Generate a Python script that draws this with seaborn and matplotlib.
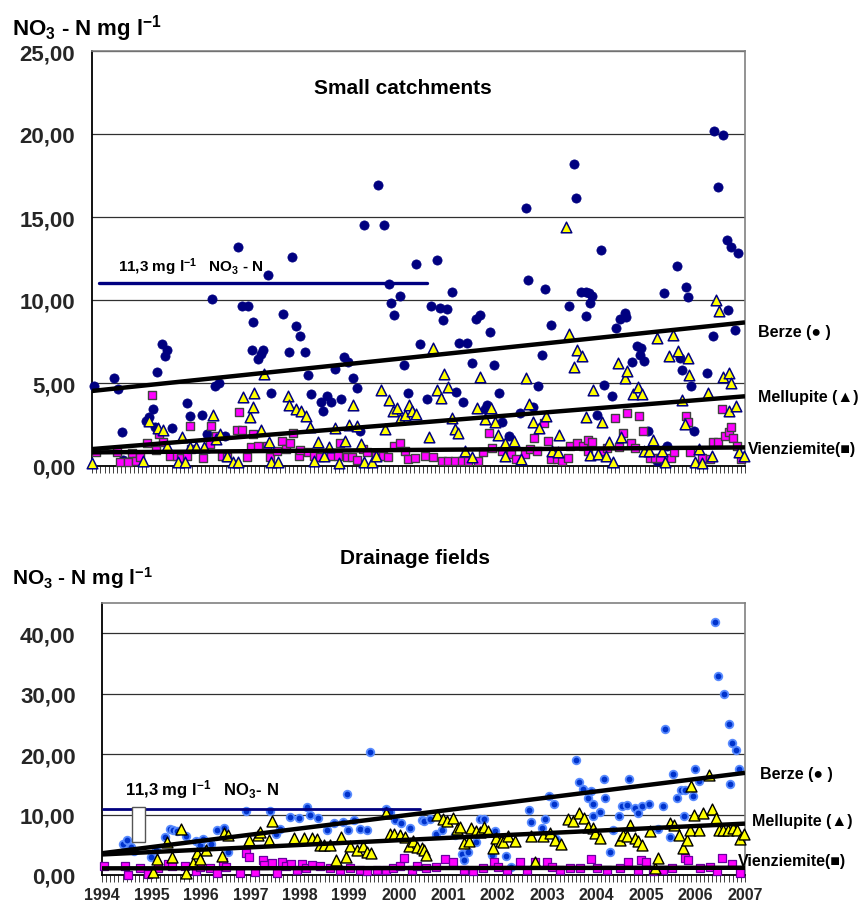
import numpy as np
import pandas as pd
import matplotlib
matplotlib.use('Agg')
import matplotlib.pyplot as plt
import seaborn as sns
from matplotlib.patches import Rectangle

# ---------------- data ----------------
year_start, year_end = 1994, 2007
year_labels = [str(y) for y in range(1994, 2008)]

top_yticks = [0, 5, 10, 15, 20, 25]
top_ylabels = ['0,00', '5,00', '10,00', '15,00', '20,00', '25,00']
bot_yticks = [0, 10, 20, 30, 40]
bot_ylabels = ['0,00', '10,00', '20,00', '30,00', '40,00']

limit_value = 11.0            # drawn 11,3 mg/l NO3-N reference line
limit_span_top = [1994.14, 2000.67]
limit_span_bot = [1994.02, 2000.43]

# trend lines (value at 1994, value at 2007)
trend_top = {'Berze': [4.52, 8.65], 'Mellupite': [1.02, 4.2], 'Vienziemite': [0.82, 1.12]}
trend_bot = {'Berze': [3.6, 16.9], 'Mellupite': [3.4, 8.5], 'Vienziemite': [1.1, 1.2]}

# Small catchments
berze_top = [(1994.04,4.80),(1994.44,5.32),(1994.52,4.64),(1994.59,2.03),(1994.62,0.35),(1995.07,2.73),(1995.14,2.93),(1995.22,3.43),(1995.26,2.33),(1995.30,5.64),(1995.39,7.33),(1995.45,6.61),(1995.50,6.97),(1995.59,2.29),(1995.90,3.78),(1995.96,3.03),(1996.19,3.09),(1996.28,1.93),(1996.38,10.06),(1996.45,4.80),(1996.53,5.00),(1996.65,1.83),(1996.90,13.21),(1996.99,9.64),(1997.11,9.64),(1997.19,6.99),(1997.21,8.69),(1997.31,6.45),(1997.36,6.75),(1997.41,6.99),(1997.50,11.53),(1997.56,4.38),(1997.81,9.14),(1997.93,6.89),(1997.98,12.61),(1998.07,8.41),(1998.15,7.81),(1998.25,6.87),(1998.31,5.50),(1998.35,4.36),(1998.55,3.88),(1998.59,3.31),(1998.67,4.20),(1998.76,3.84),(1998.84,5.84),(1998.95,4.04),(1999.02,6.55),(1999.10,6.29),(1999.19,5.32),(1999.27,4.72),(1999.34,2.11),(1999.41,14.50),(1999.70,16.91),(1999.81,14.50),(1999.91,10.96),(1999.96,9.82),(2000.01,9.12),(2000.13,10.26),(2000.21,6.10),(2000.30,4.38),(2000.45,12.17),(2000.53,7.33),
             (2000.67,4.02),(2000.75,9.64),(2000.87,12.41),(2000.93,9.54),(2000.99,8.78),(2001.07,9.46),(2001.16,10.50),(2001.25,4.44),(2001.31,7.39),(2001.39,3.84),(2001.47,7.39),(2001.56,6.18),(2001.64,8.86),(2001.73,9.12),(2001.82,3.43),(2001.86,3.67),(2001.93,8.09),(2002.01,6.10),(2002.10,4.38),(2002.16,2.63),(2002.31,1.79),(2002.53,3.19),(2002.65,15.52),(2002.67,11.20),(2002.77,3.53),(2002.87,4.80),(2002.96,6.71),(2003.02,10.68),(2003.13,8.51),(2003.50,9.64),(2003.59,18.21),(2003.64,16.12),(2003.73,10.50),(2003.83,10.50),(2003.84,9.04),(2003.89,10.40),(2003.91,9.82),(2003.96,10.26),(2004.05,3.07),(2004.13,12.99),(2004.19,4.88),(2004.36,4.20),(2004.44,8.33),(2004.52,8.86),(2004.61,9.24),(2004.64,8.96),(2004.76,6.24),(2004.84,7.21),(2004.90,6.69),(2004.93,7.13),(2004.98,6.35),(2005.07,2.11),(2005.24,0.32),(2005.38,10.42),(2005.44,1.18),(2005.65,12.07),(2005.70,6.53),(2005.75,5.76),(2005.82,10.76),(2005.87,10.16),(2005.92,4.80),(2005.99,2.13),(2006.24,5.58),(2006.36,7.81),(2006.39,20.18),(2006.47,16.83),(2006.56,19.94),(2006.64,13.63),(2006.67,9.40),(2006.73,13.21),(2006.81,8.17),(2006.87,12.83)]

mellupite_top = [(1994.00,0.18),(1995.02,0.32),(1995.14,2.73),(1995.32,2.29),(1995.41,2.19),(1995.49,1.22),(1995.72,0.22),(1995.80,1.73),(1995.85,0.22),(1995.95,1.12),(1996.08,1.12),(1996.22,1.12),(1996.40,3.07),(1996.47,1.63),(1996.55,1.93),(1996.69,0.62),(1996.80,0.22),(1996.91,0.22),(1997.00,4.14),(1997.15,2.93),(1997.20,3.53),(1997.22,4.38),(1997.36,2.19),(1997.42,5.54),(1997.52,1.43),(1997.56,0.26),(1997.70,0.26),(1997.90,4.20),(1997.92,3.67),(1998.07,3.43),(1998.17,3.33),(1998.26,3.03),(1998.34,2.33),(1998.41,0.32),(1998.49,1.47),(1998.61,0.62),(1998.71,1.12),(1998.84,2.27),(1998.92,0.18),(1999.04,1.53),(1999.12,2.47),(1999.20,3.67),(1999.27,2.43),(1999.35,1.33),(1999.41,0.22),(1999.57,0.22),(1999.65,0.62),(1999.75,4.58),(1999.83,2.23),(1999.92,3.98),(1999.99,3.33),(2000.07,3.49),(2000.14,2.83),(2000.23,3.07),(2000.32,3.67),(2000.38,3.33),(2000.46,3.13),
                 (2000.70,1.73),(2000.78,7.09),(2000.86,4.58),(2000.95,4.12),(2001.01,5.52),(2001.08,4.78),(2001.16,2.87),(2001.23,2.23),(2001.28,1.99),(2001.43,0.92),(2001.57,0.52),(2001.66,3.47),(2001.72,5.34),(2001.82,2.83),(2001.94,3.51),(2002.02,2.63),(2002.09,1.89),(2002.22,0.62),(2002.23,1.39),(2002.41,1.53),(2002.54,0.42),(2002.65,5.28),(2002.69,3.73),(2002.77,2.63),(2002.89,2.29),(2003.03,3.03),(2003.15,0.92),(2003.28,0.82),(2003.30,1.87),(2003.43,14.38),(2003.50,7.93),(2003.60,5.98),(2003.65,7.01),(2003.75,6.65),(2003.83,2.93),(2003.91,0.66),(2003.97,4.58),(2004.07,0.72),(2004.15,2.63),(2004.23,0.62),(2004.29,1.43),(2004.37,0.26),(2004.48,6.20),(2004.54,1.73),(2004.62,5.28),(2004.65,5.74),(2004.78,4.32),(2004.86,4.78),(2004.94,4.32),(2004.98,0.92),(2005.08,0.92),(2005.17,1.57),(2005.25,7.69),(2005.34,0.92),(2005.41,0.22),(2005.49,6.65),(2005.57,7.91),(2005.66,6.91),(2005.74,3.98),(2005.80,2.53),(2005.86,6.51),(2005.88,5.50),(2006.00,0.26),(2006.08,1.02),(2006.14,0.18),(2006.27,4.40),(2006.34,0.62),(2006.43,10.00),(2006.48,9.34),(2006.57,5.38),(2006.68,3.33),(2006.69,5.60),(2006.73,5.00),(2006.83,3.63),(2006.88,0.82),(2006.98,0.62)]

vienziemite_top = [(1994.08,0.82),(1994.49,0.82),(1994.56,0.26),(1994.72,0.26),(1994.79,0.78),(1994.88,0.32),(1994.96,0.52),(1995.10,1.37),(1995.19,4.28),(1995.27,0.98),(1995.34,1.93),(1995.42,1.43),(1995.55,0.62),(1995.70,0.62),(1995.77,0.48),(1995.90,0.62),(1995.95,2.43),(1995.98,1.02),(1996.20,0.48),(1996.34,1.33),(1996.36,2.39),(1996.47,1.83),(1996.59,0.62),(1996.68,0.52),(1996.88,2.19),(1996.93,3.23),(1996.99,2.19),(1997.08,0.52),(1997.16,1.12),(1997.21,1.93),(1997.31,1.18),(1997.48,1.18),(1997.54,0.52),(1997.68,0.92),(1997.79,1.53),(1997.86,1.02),(1997.94,1.39),(1998.01,1.99),(1998.12,0.62),(1998.14,0.98),(1998.31,0.82),(1998.41,0.62),(1998.54,0.52),(1998.75,0.62),(1998.90,0.58),(1998.94,1.39),(1999.07,0.52),(1999.18,0.52),(1999.27,0.38),(1999.39,1.02),(1999.47,0.82),(1999.65,0.62),(1999.80,0.62),(1999.90,0.52),(2000.01,1.22),(2000.13,1.37),(2000.23,0.92),(2000.30,0.42),(2000.43,0.48),
                   (2000.63,0.62),(2000.79,0.52),(2000.96,0.32),(2001.09,0.32),(2001.23,0.32),(2001.36,0.32),(2001.49,0.32),(2001.69,0.32),(2001.79,0.82),(2001.90,1.97),(2001.97,1.06),(2002.17,0.92),(2002.35,0.72),(2002.45,0.42),(2002.62,0.72),(2002.72,1.02),(2002.79,1.69),(2002.85,0.92),(2002.99,2.59),(2003.07,1.53),(2003.14,0.42),(2003.25,0.42),(2003.35,0.32),(2003.47,0.48),(2003.52,1.18),(2003.65,1.39),(2003.78,1.18),(2003.87,1.59),(2003.88,0.92),(2003.96,1.43),(2004.13,0.92),(2004.25,1.06),(2004.41,2.91),(2004.49,1.12),(2004.58,1.97),(2004.65,3.17),(2004.73,1.39),(2004.81,1.06),(2004.88,2.99),(2004.96,2.13),(2005.11,0.48),(2005.21,0.48),(2005.31,0.48),(2005.53,0.48),(2005.58,0.82),(2005.82,3.03),(2005.86,2.63),(2005.91,0.86),(2006.15,0.48),(2006.30,0.42),(2006.37,1.47),(2006.46,1.43),(2006.54,3.43),(2006.61,1.79),(2006.69,2.07),(2006.73,2.33),(2006.77,1.69),(2006.84,1.22),(2006.93,0.42)]

# Drainage fields
berze_bot = [(1994.42,5.2),(1994.50,5.87),(1994.58,4.6),(1994.65,3.9),(1995.00,3.04),(1995.10,4.2),(1995.27,6.30),(1995.37,7.66),(1995.44,7.50),(1995.52,7.28),(1995.70,6.41),(1995.91,5.65),(1995.98,4.95),(1996.05,6.03),(1996.20,5.2),(1996.33,7.50),(1996.47,7.83),(1996.55,3.86),(1996.92,10.65),(1997.40,10.65),(1997.52,6.85),(1997.60,7.66),(1997.81,9.57),(1997.99,9.46),(1998.14,11.20),(1998.20,9.9),(1998.37,9.46),(1998.54,7.39),(1998.70,8.59),(1998.87,8.75),(1998.95,13.37),(1998.98,7.39),(1999.09,9.02),(1999.22,7.66),(1999.35,7.39),(1999.42,20.27),(1999.75,10.92),(1999.82,10.38),(1999.92,9.02),(2000.05,8.6),(2000.23,7.83),(2000.46,9.13),
             (2000.50,9.0),(2000.63,9.3),(2000.75,6.8),(2000.87,7.5),(2001.14,6.7),(2001.27,3.5),(2001.31,2.5),(2001.39,3.8),(2001.56,5.4),(2001.64,9.2),(2001.72,9.2),(2001.88,3.3),(2001.95,7.2),(2002.17,3.2),(2002.26,1.4),(2002.64,10.7),(2002.67,8.8),(2002.90,7.8),(2002.96,9.2),(2003.04,13.1),(2003.13,11.7),(2003.18,6.0),(2003.58,19.0),(2003.65,15.4),(2003.73,14.3),(2003.83,12.8),(2003.88,13.9),(2003.92,9.7),(2003.93,11.7),(2004.06,10.4),(2004.14,15.9),(2004.17,12.8),(2004.28,3.8),(2004.34,7.4),(2004.46,9.7),(2004.51,11.4),(2004.61,11.6),(2004.66,15.9),(2004.78,11.1),(2004.84,10.2),(2004.91,11.4),(2005.05,11.7),(2005.25,7.6),(2005.34,11.4),(2005.38,24.1),(2005.48,6.3),(2005.54,16.7),(2005.62,12.8),(2005.70,14.0),(2005.77,9.7),(2005.79,14.0),(2005.94,13.1),(2005.99,17.6),(2006.06,15.6),(2006.39,41.8),(2006.46,32.9),(2006.58,30.0),(2006.67,25.0),(2006.69,15.0),(2006.73,21.9),(2006.82,20.7),(2006.88,17.6)]

mellupite_bot = [(1995.04,0.43),(1995.12,2.61),(1995.31,5.49),(1995.41,3.04),(1995.59,7.66),(1995.70,0.33),(1995.83,1.96),(1995.93,3.70),(1995.98,2.61),(1996.10,4.13),(1996.42,3.15),(1996.47,6.96),(1996.55,6.58),(1996.98,5.76),(1997.16,6.58),(1997.19,7.12),(1997.38,5.87),(1997.43,8.91),(1997.88,6.14),(1998.08,6.20),(1998.24,6.20),(1998.34,5.98),(1998.41,4.95),(1998.49,4.95),(1998.61,4.95),(1998.74,2.50),(1998.84,6.30),(1998.93,2.93),(1999.01,4.78),(1999.15,4.13),(1999.27,4.78),(1999.35,3.86),(1999.43,3.59),(1999.74,10.22),(1999.82,6.74),(1999.90,6.74),(2000.02,6.58),(2000.12,6.30),(2000.21,4.78),(2000.29,5.65),(2000.37,4.67),(2000.46,4.40),
                 (2000.50,4.2),(2000.55,3.3),(2000.77,10.0),(2000.90,9.2),(2000.97,8.9),(2001.09,9.4),(2001.17,7.6),(2001.23,8.0),(2001.31,5.3),(2001.41,5.6),(2001.47,7.8),(2001.56,7.2),(2001.64,7.1),(2001.72,8.0),(2001.81,7.2),(2001.90,4.4),(2001.97,6.1),(2002.06,5.6),(2002.11,5.4),(2002.20,6.4),(2002.35,5.7),(2002.67,6.4),(2002.76,2.1),(2002.92,6.4),(2003.06,6.9),(2003.16,5.8),(2003.29,5.1),(2003.43,9.2),(2003.53,8.9),(2003.65,10.3),(2003.75,9.4),(2003.83,7.9),(2003.92,7.8),(2003.97,6.9),(2004.07,6.1),(2004.47,5.8),(2004.54,6.7),(2004.62,6.4),(2004.68,8.2),(2004.78,6.1),(2004.84,5.6),(2004.91,4.9),(2005.07,7.2),(2005.18,1.1),(2005.25,2.8),(2005.48,8.6),(2005.56,8.3),(2005.67,6.7),(2005.74,4.4),(2005.82,5.8),(2005.88,7.5),(2005.90,14.7),(2005.97,10.0),(2006.08,7.5),(2006.16,10.3),(2006.28,16.6),(2006.33,11.0),(2006.41,9.4),(2006.48,7.5),(2006.56,7.5),(2006.66,7.5),(2006.75,7.8),(2006.83,7.5),(2006.89,6.0),(2006.98,6.8)]

vienziemite_bot = [(1994.04,1.52),(1994.46,1.41),(1994.53,0.05),(1994.77,1.14),(1994.94,0.22),(1995.14,1.14),(1995.34,1.85),(1995.41,1.52),(1995.68,1.52),(1995.91,0.60),(1995.98,1.25),(1996.18,1.14),(1996.32,0.33),(1996.45,2.23),(1996.51,1.30),(1996.79,0.33),(1996.92,3.70),(1996.98,2.93),(1997.09,0.43),(1997.25,2.50),(1997.27,1.68),(1997.43,1.96),(1997.53,0.33),(1997.63,2.23),(1997.73,1.41),(1997.83,1.85),(1997.94,0.87),(1998.04,1.85),(1998.12,1.14),(1998.24,1.68),(1998.41,1.52),(1998.61,1.14),(1998.81,0.87),(1999.01,1.14),(1999.21,0.87),(1999.35,0.60),(1999.55,0.76),(1999.75,0.87),(1999.89,1.14),(2000.02,1.41),(2000.11,2.77),(2000.26,0.87),(2000.36,1.41),
                   (2000.56,1.1),(2000.75,1.4),(2000.94,2.6),(2001.10,2.2),(2001.31,0.8),(2001.51,0.6),(2001.71,1.1),(2001.93,2.2),(2002.01,1.4),(2002.18,0.8),(2002.45,2.1),(2002.59,0.8),(2002.75,2.2),(2002.99,2.2),(2003.09,1.4),(2003.26,0.8),(2003.46,1.1),(2003.66,1.2),(2003.88,2.6),(2004.00,1.1),(2004.20,0.8),(2004.47,1.2),(2004.64,2.2),(2004.84,0.8),(2004.89,2.5),(2004.99,2.2),(2005.15,0.6),(2005.35,0.8),(2005.52,1.1),(2005.79,2.8),(2005.85,2.5),(2006.09,1.1),(2006.29,1.4),(2006.43,0.7),(2006.53,2.8),(2006.73,1.9),(2006.90,0.3)]

# ---------------- style ----------------
sns.set_style('white')
plt.rcParams['font.family'] = ['Liberation Sans', 'DejaVu Sans']
plt.rcParams['mathtext.fontset'] = 'custom'
plt.rcParams['mathtext.rm'] = 'Liberation Sans:bold'
plt.rcParams['mathtext.bf'] = 'Liberation Sans:bold'
plt.rcParams['mathtext.it'] = 'Liberation Sans:bold'
plt.rcParams['mathtext.default'] = 'bf'

W, H = 861, 903
fig = plt.figure(figsize=(W / 100, H / 100), dpi=100)
ax1 = fig.add_axes([92 / W, 1 - 467 / H, 653 / W, 415 / H])
ax2 = fig.add_axes([102 / W, 27 / H, 643 / W, 272 / H])

months = np.linspace(year_start, year_end, (year_end - year_start) * 12 + 1)
years = np.arange(year_start, year_end + 1)


def frame(ax, ymax, yticks, ylabels, show_years, ypad):
    ax.set_xlim(year_start, year_end)
    ax.set_ylim(0, ymax)
    for y in yticks[1:]:
        ax.axhline(y, color='#303030', lw=0.9, zorder=0.5)
    ax.set_yticks(yticks)
    ax.set_yticklabels(ylabels, fontsize=16, fontweight='bold')
    ax.tick_params(axis='y', length=7, width=0.9, color='#303030', pad=ypad)
    ax.set_xticks(years)
    ax.set_xticks(months, minor=True)
    if show_years:
        ax.set_xticklabels(year_labels, fontsize=11.5, fontweight='bold')
    else:
        ax.set_xticklabels([])
    ax.tick_params(axis='x', which='both', length=5, width=0.7, color='#404040',
                   direction='out', pad=4, bottom=True)
    for s in ['top', 'right']:
        ax.spines[s].set_color('#808080')
        ax.spines[s].set_linewidth(1.2)
    for s in ['left', 'bottom']:
        ax.spines[s].set_color('black')
        ax.spines[s].set_linewidth(1.3)
    ax.set_xlabel('')
    ax.set_ylabel('')


def draw(ax, series, styles, trends):
    for name, pts in series.items():
        df = pd.DataFrame(pts, columns=['year', 'value'])
        st = styles[name]
        sns.scatterplot(data=df, x='year', y='value', ax=ax, legend=False,
                        marker=st['marker'], s=st['s'], color=st['fc'],
                        edgecolor=st['ec'], linewidth=st['lw'], zorder=st['z'], clip_on=False)
    for name, (a, b) in trends.items():
        ax.plot([year_start, year_end], [a, b], color='black', lw=3.2,
                solid_capstyle='butt', zorder=6)


styles_top = {
    'Berze': dict(marker='o', s=44, fc='#000080', ec='#000080', lw=0.5, z=3),
    'Mellupite': dict(marker='^', s=58, fc='#ffff00', ec='#000080', lw=1.1, z=4),
    'Vienziemite': dict(marker='s', s=36, fc='#ff00ff', ec='#404040', lw=1.0, z=3.5),
}
styles_bot = {
    'Berze': dict(marker='o', s=30, fc='#0033cc', ec='#5a8cff', lw=1.3, z=3),
    'Mellupite': dict(marker='^', s=62, fc='#ffff00', ec='black', lw=1.0, z=4),
    'Vienziemite': dict(marker='s', s=38, fc='#ff00ff', ec='#6a00a0', lw=0.9, z=3.5),
}

draw(ax1, {'Berze': berze_top, 'Mellupite': mellupite_top, 'Vienziemite': vienziemite_top},
     styles_top, trend_top)
draw(ax2, {'Berze': berze_bot, 'Mellupite': mellupite_bot, 'Vienziemite': vienziemite_bot},
     styles_bot, trend_bot)

frame(ax1, 25, top_yticks, top_ylabels, False, 5)
frame(ax2, 45, bot_yticks, bot_ylabels, True, 12)

# reference limit lines
ax1.plot(limit_span_top, [limit_value, limit_value], color='#000080', lw=2.4, zorder=5)
ax2.plot(limit_span_bot, [limit_value, limit_value], color='#000080', lw=2.0, zorder=5)
ax2.add_patch(Rectangle((1994.61, 5.45), 0.26, 5.75, facecolor='white',
                        edgecolor='#555555', lw=1.0, zorder=7))

# texts
bold = dict(fontweight='bold', color='black')
fig.text(12 / W, 1 - 29 / H, r'NO$_3$ - N mg l$^{-1}$', fontsize=16, va='center', ha='left', **bold)
fig.text(12 / W, 1 - 578 / H, r'NO$_3$ - N mg l$^{-1}$', fontsize=15, va='center', ha='left', **bold)
fig.text(403 / W, 1 - 88 / H, 'Small catchments', fontsize=15, va='center', ha='center', **bold)
fig.text(415 / W, 1 - 558 / H, 'Drainage fields', fontsize=15, va='center', ha='center', **bold)
fig.text(118 / W, 1 - 267 / H, r'11,3 mg l$^{-1}$   NO$_3$ - N', fontsize=11, va='center', ha='left', **bold)
fig.text(125 / W, 1 - 790 / H, r'11,3 mg l$^{-1}$   NO$_3$- N', fontsize=12, va='center', ha='left', **bold)

lab = dict(fontsize=11.5, va='center', ha='left', **bold)
fig.text(758 / W, 1 - 333 / H, 'Berze (● )', **lab)
fig.text(758 / W, 1 - 398 / H, 'Mellupite (▲)', **lab)
fig.text(748 / W, 1 - 450 / H, 'Vienziemite(■)', **lab)
fig.text(760 / W, 1 - 775 / H, 'Berze (● )', **lab)
fig.text(752 / W, 1 - 822 / H, 'Mellupite (▲)', **lab)
fig.text(738 / W, 1 - 862 / H, 'Vienziemite(■)', **lab)

fig.savefig('out.png', dpi=100)
